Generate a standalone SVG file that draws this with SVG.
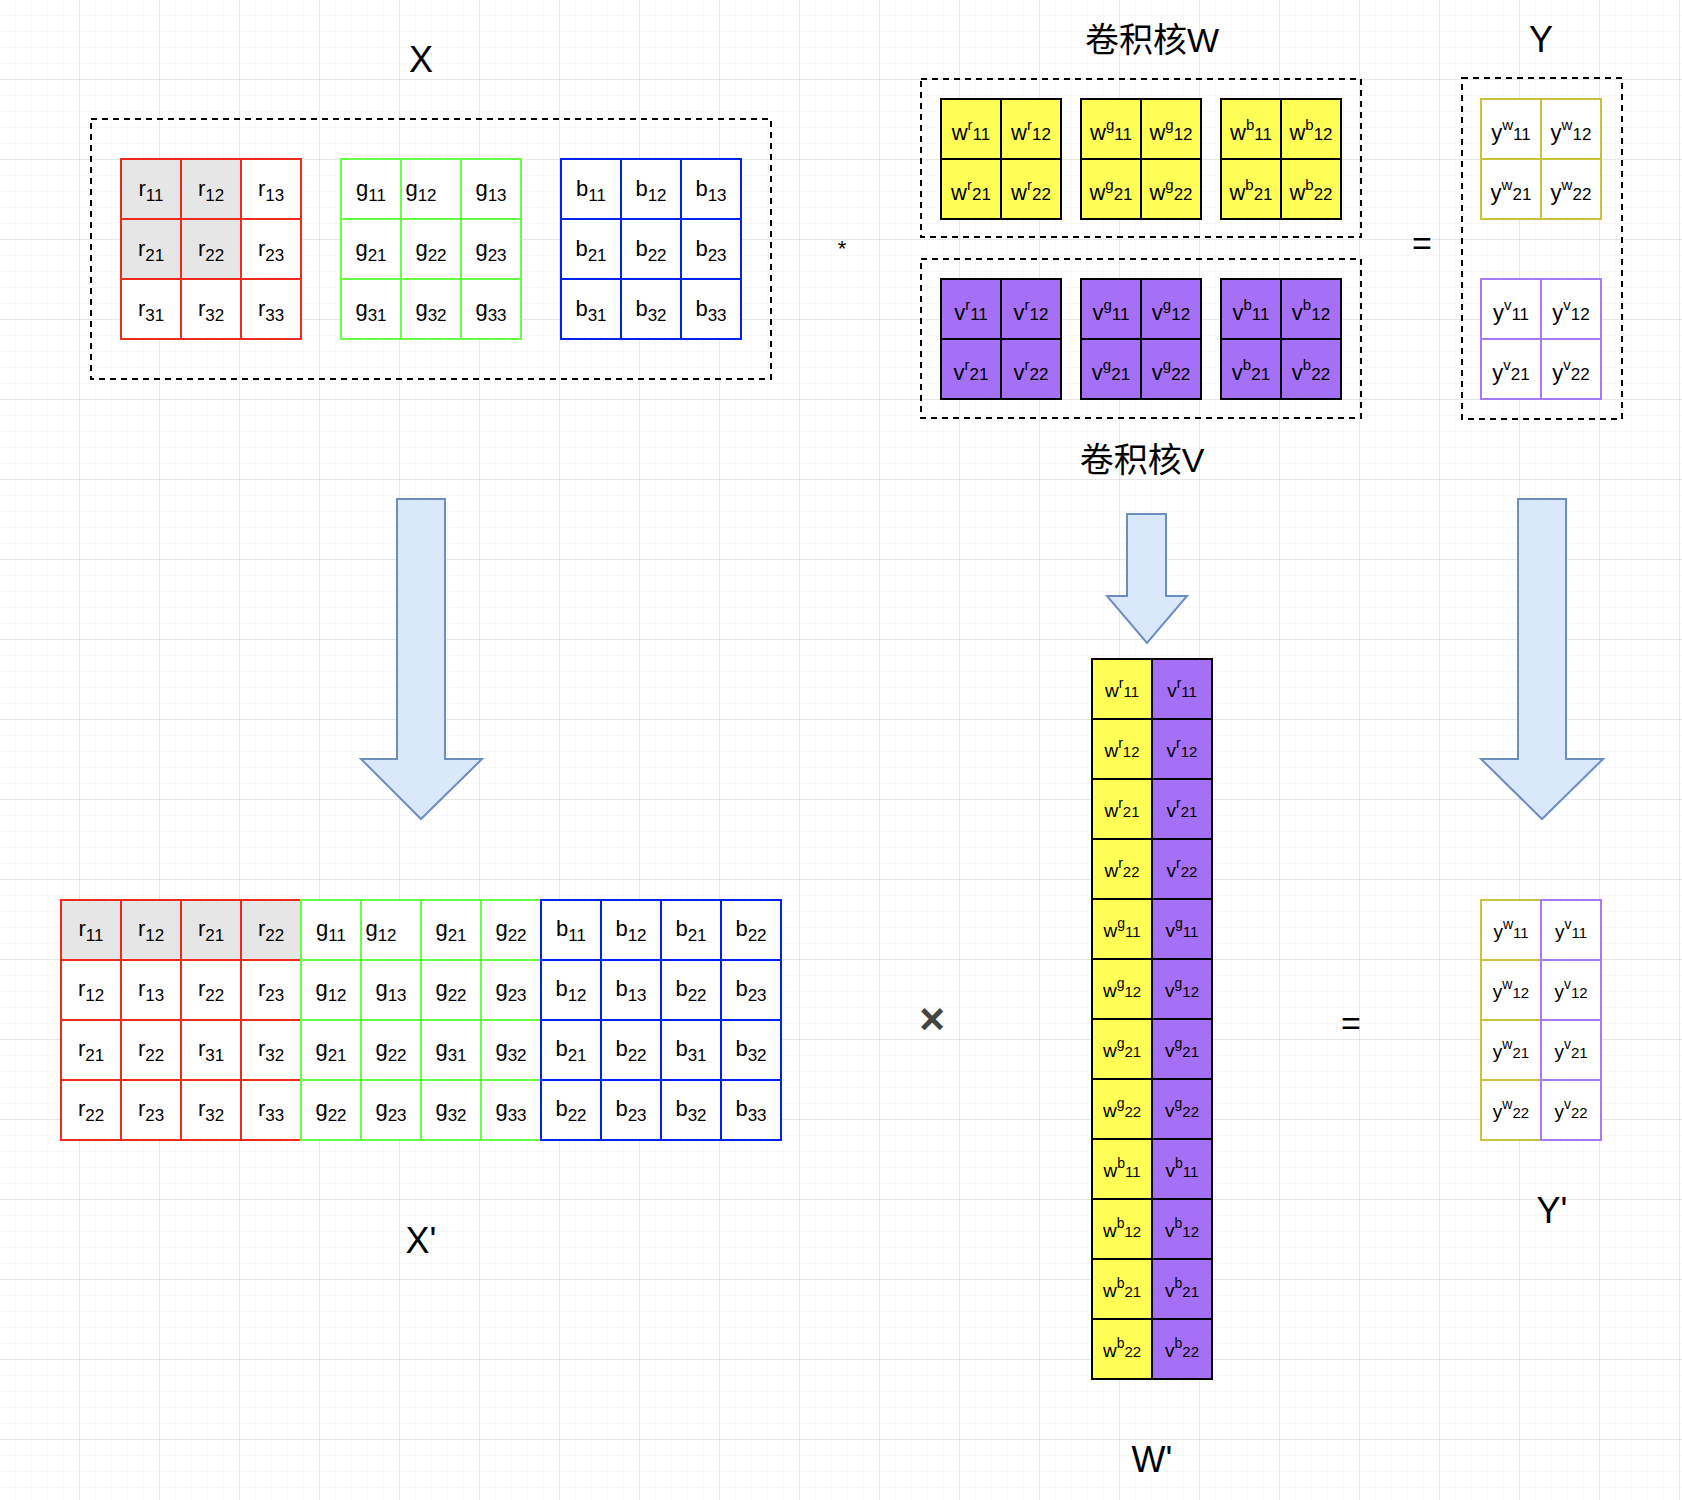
<svg xmlns="http://www.w3.org/2000/svg" width="1682" height="1500" viewBox="0 0 1682 1500">
<style>
text{font-family:"Liberation Sans",Arial,sans-serif;fill:#000;text-anchor:middle}
.c{font-size:22px}
.w{font-family:"DejaVu Sans",sans-serif;font-size:19px}
.lbl{font-size:36px}
.cjk{font-family:"Liberation Sans","Noto Sans CJK SC",sans-serif;font-size:34px}
.red{fill:#fff;stroke:#ee2a1c;stroke-width:2}
.redg{fill:#e6e6e6;stroke:#ee2a1c;stroke-width:2}
.grn{fill:#fff;stroke:#66ff44;stroke-width:2}
.blu{fill:#fff;stroke:#0022ee;stroke-width:2}
.yel{fill:#ffff55;stroke:#000;stroke-width:2}
.pur{fill:#a570f5;stroke:#000;stroke-width:2}
.yw{fill:#fff;stroke:#c8c33a;stroke-width:2}
.yv{fill:#fff;stroke:#a77af5;stroke-width:2}
.dash{fill:none;stroke:#000;stroke-width:2;stroke-dasharray:6 5}
.arr{fill:#dae8fc;stroke:#6c8ebf;stroke-width:2}
</style>
<defs>
<pattern id="minor" width="16" height="16" patternUnits="userSpaceOnUse"><path d="M16 0V16M0 16H16" fill="none" stroke="#f1f1f1" stroke-width="1"/></pattern>
<pattern id="major" width="80" height="80" patternUnits="userSpaceOnUse"><rect width="80" height="80" fill="url(#minor)"/><path d="M80 0V80M0 80H80" fill="none" stroke="#d6d6d6" stroke-width="1"/></pattern>
</defs>
<rect width="1682" height="1500" fill="#fff"/>
<rect width="1682" height="1500" fill="url(#major)"/>

<g id="labels">
<text class="lbl" x="421" y="72">X</text>
<text class="cjk" x="1152" y="52">卷积核W</text>
<text class="cjk" x="1142" y="472">卷积核V</text>
<text class="lbl" x="1541" y="52">Y</text>
<text class="c" x="842" y="256">*</text>
<text style="font-size:34px" x="1422" y="255">=</text>
<text class="lbl" x="421" y="1253">X'</text>
<text style="font-size:44px;font-weight:bold;fill:#444" x="932" y="1034">×</text>
<text style="font-size:34px" x="1351" y="1035">=</text>
<text class="lbl" x="1152" y="1472">W'</text>
<text class="lbl" x="1552" y="1223">Y'</text>
</g>

<g id="X">
<rect class="dash" x="91" y="119" width="680" height="260"/>
<g class="c">
<rect class="redg" x="121" y="159" width="60" height="60"/><rect class="redg" x="181" y="159" width="60" height="60"/><rect class="red" x="241" y="159" width="60" height="60"/>
<rect class="redg" x="121" y="219" width="60" height="60"/><rect class="redg" x="181" y="219" width="60" height="60"/><rect class="red" x="241" y="219" width="60" height="60"/>
<rect class="red" x="121" y="279" width="60" height="60"/><rect class="red" x="181" y="279" width="60" height="60"/><rect class="red" x="241" y="279" width="60" height="60"/>
<text x="151" y="196">r<tspan dy="5" font-size="17">11</tspan></text><text x="211" y="196">r<tspan dy="5" font-size="17">12</tspan></text><text x="271" y="196">r<tspan dy="5" font-size="17">13</tspan></text>
<text x="151" y="256">r<tspan dy="5" font-size="17">21</tspan></text><text x="211" y="256">r<tspan dy="5" font-size="17">22</tspan></text><text x="271" y="256">r<tspan dy="5" font-size="17">23</tspan></text>
<text x="151" y="316">r<tspan dy="5" font-size="17">31</tspan></text><text x="211" y="316">r<tspan dy="5" font-size="17">32</tspan></text><text x="271" y="316">r<tspan dy="5" font-size="17">33</tspan></text>
<rect class="grn" x="341" y="159" width="60" height="60"/><rect class="grn" x="401" y="159" width="60" height="60"/><rect class="grn" x="461" y="159" width="60" height="60"/>
<rect class="grn" x="341" y="219" width="60" height="60"/><rect class="grn" x="401" y="219" width="60" height="60"/><rect class="grn" x="461" y="219" width="60" height="60"/>
<rect class="grn" x="341" y="279" width="60" height="60"/><rect class="grn" x="401" y="279" width="60" height="60"/><rect class="grn" x="461" y="279" width="60" height="60"/>
<text x="371" y="196">g<tspan dy="5" font-size="17">11</tspan></text><text x="421" y="196">g<tspan dy="5" font-size="17">12</tspan></text><text x="491" y="196">g<tspan dy="5" font-size="17">13</tspan></text>
<text x="371" y="256">g<tspan dy="5" font-size="17">21</tspan></text><text x="431" y="256">g<tspan dy="5" font-size="17">22</tspan></text><text x="491" y="256">g<tspan dy="5" font-size="17">23</tspan></text>
<text x="371" y="316">g<tspan dy="5" font-size="17">31</tspan></text><text x="431" y="316">g<tspan dy="5" font-size="17">32</tspan></text><text x="491" y="316">g<tspan dy="5" font-size="17">33</tspan></text>
<rect class="blu" x="561" y="159" width="60" height="60"/><rect class="blu" x="621" y="159" width="60" height="60"/><rect class="blu" x="681" y="159" width="60" height="60"/>
<rect class="blu" x="561" y="219" width="60" height="60"/><rect class="blu" x="621" y="219" width="60" height="60"/><rect class="blu" x="681" y="219" width="60" height="60"/>
<rect class="blu" x="561" y="279" width="60" height="60"/><rect class="blu" x="621" y="279" width="60" height="60"/><rect class="blu" x="681" y="279" width="60" height="60"/>
<text x="591" y="196">b<tspan dy="5" font-size="17">11</tspan></text><text x="651" y="196">b<tspan dy="5" font-size="17">12</tspan></text><text x="711" y="196">b<tspan dy="5" font-size="17">13</tspan></text>
<text x="591" y="256">b<tspan dy="5" font-size="17">21</tspan></text><text x="651" y="256">b<tspan dy="5" font-size="17">22</tspan></text><text x="711" y="256">b<tspan dy="5" font-size="17">23</tspan></text>
<text x="591" y="316">b<tspan dy="5" font-size="17">31</tspan></text><text x="651" y="316">b<tspan dy="5" font-size="17">32</tspan></text><text x="711" y="316">b<tspan dy="5" font-size="17">33</tspan></text>
</g>
</g>

<g id="W">
<rect class="dash" x="921" y="79" width="440" height="158"/>
<g class="c">
<rect class="yel" x="941" y="99" width="60" height="60"/><rect class="yel" x="1001" y="99" width="60" height="60"/><rect class="yel" x="941" y="159" width="60" height="60"/><rect class="yel" x="1001" y="159" width="60" height="60"/>
<rect class="yel" x="1081" y="99" width="60" height="60"/><rect class="yel" x="1141" y="99" width="60" height="60"/><rect class="yel" x="1081" y="159" width="60" height="60"/><rect class="yel" x="1141" y="159" width="60" height="60"/>
<rect class="yel" x="1221" y="99" width="60" height="60"/><rect class="yel" x="1281" y="99" width="60" height="60"/><rect class="yel" x="1221" y="159" width="60" height="60"/><rect class="yel" x="1281" y="159" width="60" height="60"/>
<text x="971" y="140">w<tspan dy="-10" font-size="15">r</tspan><tspan dy="10" font-size="17">11</tspan></text><text x="1031" y="140">w<tspan dy="-10" font-size="15">r</tspan><tspan dy="10" font-size="17">12</tspan></text>
<text x="971" y="200">w<tspan dy="-10" font-size="15">r</tspan><tspan dy="10" font-size="17">21</tspan></text><text x="1031" y="200">w<tspan dy="-10" font-size="15">r</tspan><tspan dy="10" font-size="17">22</tspan></text>
<text x="1111" y="140">w<tspan dy="-10" font-size="15">g</tspan><tspan dy="10" font-size="17">11</tspan></text><text x="1171" y="140">w<tspan dy="-10" font-size="15">g</tspan><tspan dy="10" font-size="17">12</tspan></text>
<text x="1111" y="200">w<tspan dy="-10" font-size="15">g</tspan><tspan dy="10" font-size="17">21</tspan></text><text x="1171" y="200">w<tspan dy="-10" font-size="15">g</tspan><tspan dy="10" font-size="17">22</tspan></text>
<text x="1251" y="140">w<tspan dy="-10" font-size="15">b</tspan><tspan dy="10" font-size="17">11</tspan></text><text x="1311" y="140">w<tspan dy="-10" font-size="15">b</tspan><tspan dy="10" font-size="17">12</tspan></text>
<text x="1251" y="200">w<tspan dy="-10" font-size="15">b</tspan><tspan dy="10" font-size="17">21</tspan></text><text x="1311" y="200">w<tspan dy="-10" font-size="15">b</tspan><tspan dy="10" font-size="17">22</tspan></text>
</g>
</g>

<g id="V">
<rect class="dash" x="921" y="259" width="440" height="159"/>
<g class="c">
<rect class="pur" x="941" y="279" width="60" height="60"/><rect class="pur" x="1001" y="279" width="60" height="60"/><rect class="pur" x="941" y="339" width="60" height="60"/><rect class="pur" x="1001" y="339" width="60" height="60"/>
<rect class="pur" x="1081" y="279" width="60" height="60"/><rect class="pur" x="1141" y="279" width="60" height="60"/><rect class="pur" x="1081" y="339" width="60" height="60"/><rect class="pur" x="1141" y="339" width="60" height="60"/>
<rect class="pur" x="1221" y="279" width="60" height="60"/><rect class="pur" x="1281" y="279" width="60" height="60"/><rect class="pur" x="1221" y="339" width="60" height="60"/><rect class="pur" x="1281" y="339" width="60" height="60"/>
<text x="971" y="320">v<tspan dy="-10" font-size="15">r</tspan><tspan dy="10" font-size="17">11</tspan></text><text x="1031" y="320">v<tspan dy="-10" font-size="15">r</tspan><tspan dy="10" font-size="17">12</tspan></text>
<text x="971" y="380">v<tspan dy="-10" font-size="15">r</tspan><tspan dy="10" font-size="17">21</tspan></text><text x="1031" y="380">v<tspan dy="-10" font-size="15">r</tspan><tspan dy="10" font-size="17">22</tspan></text>
<text x="1111" y="320">v<tspan dy="-10" font-size="15">g</tspan><tspan dy="10" font-size="17">11</tspan></text><text x="1171" y="320">v<tspan dy="-10" font-size="15">g</tspan><tspan dy="10" font-size="17">12</tspan></text>
<text x="1111" y="380">v<tspan dy="-10" font-size="15">g</tspan><tspan dy="10" font-size="17">21</tspan></text><text x="1171" y="380">v<tspan dy="-10" font-size="15">g</tspan><tspan dy="10" font-size="17">22</tspan></text>
<text x="1251" y="320">v<tspan dy="-10" font-size="15">b</tspan><tspan dy="10" font-size="17">11</tspan></text><text x="1311" y="320">v<tspan dy="-10" font-size="15">b</tspan><tspan dy="10" font-size="17">12</tspan></text>
<text x="1251" y="380">v<tspan dy="-10" font-size="15">b</tspan><tspan dy="10" font-size="17">21</tspan></text><text x="1311" y="380">v<tspan dy="-10" font-size="15">b</tspan><tspan dy="10" font-size="17">22</tspan></text>
</g>
</g>

<g id="Y">
<rect class="dash" x="1462" y="78" width="160" height="341"/>
<g class="c">
<rect class="yw" x="1481" y="99" width="60" height="60"/><rect class="yw" x="1541" y="99" width="60" height="60"/><rect class="yw" x="1481" y="159" width="60" height="60"/><rect class="yw" x="1541" y="159" width="60" height="60"/>
<rect class="yv" x="1481" y="279" width="60" height="60"/><rect class="yv" x="1541" y="279" width="60" height="60"/><rect class="yv" x="1481" y="339" width="60" height="60"/><rect class="yv" x="1541" y="339" width="60" height="60"/>
<text x="1511" y="140">y<tspan dy="-10" font-size="15">w</tspan><tspan dy="10" font-size="17">11</tspan></text><text x="1571" y="140">y<tspan dy="-10" font-size="15">w</tspan><tspan dy="10" font-size="17">12</tspan></text>
<text x="1511" y="200">y<tspan dy="-10" font-size="15">w</tspan><tspan dy="10" font-size="17">21</tspan></text><text x="1571" y="200">y<tspan dy="-10" font-size="15">w</tspan><tspan dy="10" font-size="17">22</tspan></text>
<text x="1511" y="320">y<tspan dy="-10" font-size="15">v</tspan><tspan dy="10" font-size="17">11</tspan></text><text x="1571" y="320">y<tspan dy="-10" font-size="15">v</tspan><tspan dy="10" font-size="17">12</tspan></text>
<text x="1511" y="380">y<tspan dy="-10" font-size="15">v</tspan><tspan dy="10" font-size="17">21</tspan></text><text x="1571" y="380">y<tspan dy="-10" font-size="15">v</tspan><tspan dy="10" font-size="17">22</tspan></text>
</g>
</g>

<g id="connectors">
<path class="arr" d="M397 499H445V759H482L421 819L361 759H397Z"/>
<path class="arr" d="M1127 514H1166V596H1187L1147 643L1107 596H1127Z"/>
<path class="arr" d="M1518 499H1566V759H1603L1542 819L1481 759H1518Z"/>
</g>

<g id="Xp" class="c">
<rect class="redg" x="61" y="900" width="60" height="60"/><rect class="redg" x="121" y="900" width="60" height="60"/><rect class="redg" x="181" y="900" width="60" height="60"/><rect class="redg" x="241" y="900" width="60" height="60"/>
<rect class="red" x="61" y="960" width="60" height="60"/><rect class="red" x="121" y="960" width="60" height="60"/><rect class="red" x="181" y="960" width="60" height="60"/><rect class="red" x="241" y="960" width="60" height="60"/>
<rect class="red" x="61" y="1020" width="60" height="60"/><rect class="red" x="121" y="1020" width="60" height="60"/><rect class="red" x="181" y="1020" width="60" height="60"/><rect class="red" x="241" y="1020" width="60" height="60"/>
<rect class="red" x="61" y="1080" width="60" height="60"/><rect class="red" x="121" y="1080" width="60" height="60"/><rect class="red" x="181" y="1080" width="60" height="60"/><rect class="red" x="241" y="1080" width="60" height="60"/>
<rect class="grn" x="301" y="900" width="60" height="60"/><rect class="grn" x="361" y="900" width="60" height="60"/><rect class="grn" x="421" y="900" width="60" height="60"/><rect class="grn" x="481" y="900" width="60" height="60"/>
<rect class="grn" x="301" y="960" width="60" height="60"/><rect class="grn" x="361" y="960" width="60" height="60"/><rect class="grn" x="421" y="960" width="60" height="60"/><rect class="grn" x="481" y="960" width="60" height="60"/>
<rect class="grn" x="301" y="1020" width="60" height="60"/><rect class="grn" x="361" y="1020" width="60" height="60"/><rect class="grn" x="421" y="1020" width="60" height="60"/><rect class="grn" x="481" y="1020" width="60" height="60"/>
<rect class="grn" x="301" y="1080" width="60" height="60"/><rect class="grn" x="361" y="1080" width="60" height="60"/><rect class="grn" x="421" y="1080" width="60" height="60"/><rect class="grn" x="481" y="1080" width="60" height="60"/>
<rect class="blu" x="541" y="900" width="60" height="60"/><rect class="blu" x="601" y="900" width="60" height="60"/><rect class="blu" x="661" y="900" width="60" height="60"/><rect class="blu" x="721" y="900" width="60" height="60"/>
<rect class="blu" x="541" y="960" width="60" height="60"/><rect class="blu" x="601" y="960" width="60" height="60"/><rect class="blu" x="661" y="960" width="60" height="60"/><rect class="blu" x="721" y="960" width="60" height="60"/>
<rect class="blu" x="541" y="1020" width="60" height="60"/><rect class="blu" x="601" y="1020" width="60" height="60"/><rect class="blu" x="661" y="1020" width="60" height="60"/><rect class="blu" x="721" y="1020" width="60" height="60"/>
<rect class="blu" x="541" y="1080" width="60" height="60"/><rect class="blu" x="601" y="1080" width="60" height="60"/><rect class="blu" x="661" y="1080" width="60" height="60"/><rect class="blu" x="721" y="1080" width="60" height="60"/>
<text x="91" y="936">r<tspan dy="5" font-size="17">11</tspan></text><text x="151" y="936">r<tspan dy="5" font-size="17">12</tspan></text><text x="211" y="936">r<tspan dy="5" font-size="17">21</tspan></text><text x="271" y="936">r<tspan dy="5" font-size="17">22</tspan></text>
<text x="331" y="936">g<tspan dy="5" font-size="17">11</tspan></text><text x="381" y="936">g<tspan dy="5" font-size="17">12</tspan></text><text x="451" y="936">g<tspan dy="5" font-size="17">21</tspan></text><text x="511" y="936">g<tspan dy="5" font-size="17">22</tspan></text>
<text x="571" y="936">b<tspan dy="5" font-size="17">11</tspan></text><text x="631" y="936">b<tspan dy="5" font-size="17">12</tspan></text><text x="691" y="936">b<tspan dy="5" font-size="17">21</tspan></text><text x="751" y="936">b<tspan dy="5" font-size="17">22</tspan></text>
<text x="91" y="996">r<tspan dy="5" font-size="17">12</tspan></text><text x="151" y="996">r<tspan dy="5" font-size="17">13</tspan></text><text x="211" y="996">r<tspan dy="5" font-size="17">22</tspan></text><text x="271" y="996">r<tspan dy="5" font-size="17">23</tspan></text>
<text x="331" y="996">g<tspan dy="5" font-size="17">12</tspan></text><text x="391" y="996">g<tspan dy="5" font-size="17">13</tspan></text><text x="451" y="996">g<tspan dy="5" font-size="17">22</tspan></text><text x="511" y="996">g<tspan dy="5" font-size="17">23</tspan></text>
<text x="571" y="996">b<tspan dy="5" font-size="17">12</tspan></text><text x="631" y="996">b<tspan dy="5" font-size="17">13</tspan></text><text x="691" y="996">b<tspan dy="5" font-size="17">22</tspan></text><text x="751" y="996">b<tspan dy="5" font-size="17">23</tspan></text>
<text x="91" y="1056">r<tspan dy="5" font-size="17">21</tspan></text><text x="151" y="1056">r<tspan dy="5" font-size="17">22</tspan></text><text x="211" y="1056">r<tspan dy="5" font-size="17">31</tspan></text><text x="271" y="1056">r<tspan dy="5" font-size="17">32</tspan></text>
<text x="331" y="1056">g<tspan dy="5" font-size="17">21</tspan></text><text x="391" y="1056">g<tspan dy="5" font-size="17">22</tspan></text><text x="451" y="1056">g<tspan dy="5" font-size="17">31</tspan></text><text x="511" y="1056">g<tspan dy="5" font-size="17">32</tspan></text>
<text x="571" y="1056">b<tspan dy="5" font-size="17">21</tspan></text><text x="631" y="1056">b<tspan dy="5" font-size="17">22</tspan></text><text x="691" y="1056">b<tspan dy="5" font-size="17">31</tspan></text><text x="751" y="1056">b<tspan dy="5" font-size="17">32</tspan></text>
<text x="91" y="1116">r<tspan dy="5" font-size="17">22</tspan></text><text x="151" y="1116">r<tspan dy="5" font-size="17">23</tspan></text><text x="211" y="1116">r<tspan dy="5" font-size="17">32</tspan></text><text x="271" y="1116">r<tspan dy="5" font-size="17">33</tspan></text>
<text x="331" y="1116">g<tspan dy="5" font-size="17">22</tspan></text><text x="391" y="1116">g<tspan dy="5" font-size="17">23</tspan></text><text x="451" y="1116">g<tspan dy="5" font-size="17">32</tspan></text><text x="511" y="1116">g<tspan dy="5" font-size="17">33</tspan></text>
<text x="571" y="1116">b<tspan dy="5" font-size="17">22</tspan></text><text x="631" y="1116">b<tspan dy="5" font-size="17">23</tspan></text><text x="691" y="1116">b<tspan dy="5" font-size="17">32</tspan></text><text x="751" y="1116">b<tspan dy="5" font-size="17">33</tspan></text>
</g>

<g id="Wp" class="w">
<rect class="yel" x="1092" y="659" width="60" height="720"/>
<rect class="pur" x="1152" y="659" width="60" height="720"/>
<path d="M1092 719H1212M1092 779H1212M1092 839H1212M1092 899H1212M1092 959H1212M1092 1019H1212M1092 1079H1212M1092 1139H1212M1092 1199H1212M1092 1259H1212M1092 1319H1212" stroke="#000" stroke-width="2"/>
<text x="1122" y="697">w<tspan dy="-9" font-size="14">r</tspan><tspan dy="9" font-size="15">11</tspan></text><text x="1182" y="697">v<tspan dy="-9" font-size="14">r</tspan><tspan dy="9" font-size="15">11</tspan></text>
<text x="1122" y="757">w<tspan dy="-9" font-size="14">r</tspan><tspan dy="9" font-size="15">12</tspan></text><text x="1182" y="757">v<tspan dy="-9" font-size="14">r</tspan><tspan dy="9" font-size="15">12</tspan></text>
<text x="1122" y="817">w<tspan dy="-9" font-size="14">r</tspan><tspan dy="9" font-size="15">21</tspan></text><text x="1182" y="817">v<tspan dy="-9" font-size="14">r</tspan><tspan dy="9" font-size="15">21</tspan></text>
<text x="1122" y="877">w<tspan dy="-9" font-size="14">r</tspan><tspan dy="9" font-size="15">22</tspan></text><text x="1182" y="877">v<tspan dy="-9" font-size="14">r</tspan><tspan dy="9" font-size="15">22</tspan></text>
<text x="1122" y="937">w<tspan dy="-9" font-size="14">g</tspan><tspan dy="9" font-size="15">11</tspan></text><text x="1182" y="937">v<tspan dy="-9" font-size="14">g</tspan><tspan dy="9" font-size="15">11</tspan></text>
<text x="1122" y="997">w<tspan dy="-9" font-size="14">g</tspan><tspan dy="9" font-size="15">12</tspan></text><text x="1182" y="997">v<tspan dy="-9" font-size="14">g</tspan><tspan dy="9" font-size="15">12</tspan></text>
<text x="1122" y="1057">w<tspan dy="-9" font-size="14">g</tspan><tspan dy="9" font-size="15">21</tspan></text><text x="1182" y="1057">v<tspan dy="-9" font-size="14">g</tspan><tspan dy="9" font-size="15">21</tspan></text>
<text x="1122" y="1117">w<tspan dy="-9" font-size="14">g</tspan><tspan dy="9" font-size="15">22</tspan></text><text x="1182" y="1117">v<tspan dy="-9" font-size="14">g</tspan><tspan dy="9" font-size="15">22</tspan></text>
<text x="1122" y="1177">w<tspan dy="-9" font-size="14">b</tspan><tspan dy="9" font-size="15">11</tspan></text><text x="1182" y="1177">v<tspan dy="-9" font-size="14">b</tspan><tspan dy="9" font-size="15">11</tspan></text>
<text x="1122" y="1237">w<tspan dy="-9" font-size="14">b</tspan><tspan dy="9" font-size="15">12</tspan></text><text x="1182" y="1237">v<tspan dy="-9" font-size="14">b</tspan><tspan dy="9" font-size="15">12</tspan></text>
<text x="1122" y="1297">w<tspan dy="-9" font-size="14">b</tspan><tspan dy="9" font-size="15">21</tspan></text><text x="1182" y="1297">v<tspan dy="-9" font-size="14">b</tspan><tspan dy="9" font-size="15">21</tspan></text>
<text x="1122" y="1357">w<tspan dy="-9" font-size="14">b</tspan><tspan dy="9" font-size="15">22</tspan></text><text x="1182" y="1357">v<tspan dy="-9" font-size="14">b</tspan><tspan dy="9" font-size="15">22</tspan></text>
</g>

<g id="Yp" class="w">
<rect class="yw" x="1481" y="900" width="60" height="60"/><rect class="yw" x="1481" y="960" width="60" height="60"/><rect class="yw" x="1481" y="1020" width="60" height="60"/><rect class="yw" x="1481" y="1080" width="60" height="60"/>
<rect class="yv" x="1541" y="900" width="60" height="60"/><rect class="yv" x="1541" y="960" width="60" height="60"/><rect class="yv" x="1541" y="1020" width="60" height="60"/><rect class="yv" x="1541" y="1080" width="60" height="60"/>
<text x="1511" y="938">y<tspan dy="-9" font-size="14">w</tspan><tspan dy="9" font-size="15">11</tspan></text><text x="1571" y="938">y<tspan dy="-9" font-size="14">v</tspan><tspan dy="9" font-size="15">11</tspan></text>
<text x="1511" y="998">y<tspan dy="-9" font-size="14">w</tspan><tspan dy="9" font-size="15">12</tspan></text><text x="1571" y="998">y<tspan dy="-9" font-size="14">v</tspan><tspan dy="9" font-size="15">12</tspan></text>
<text x="1511" y="1058">y<tspan dy="-9" font-size="14">w</tspan><tspan dy="9" font-size="15">21</tspan></text><text x="1571" y="1058">y<tspan dy="-9" font-size="14">v</tspan><tspan dy="9" font-size="15">21</tspan></text>
<text x="1511" y="1118">y<tspan dy="-9" font-size="14">w</tspan><tspan dy="9" font-size="15">22</tspan></text><text x="1571" y="1118">y<tspan dy="-9" font-size="14">v</tspan><tspan dy="9" font-size="15">22</tspan></text>
</g>
</svg>
